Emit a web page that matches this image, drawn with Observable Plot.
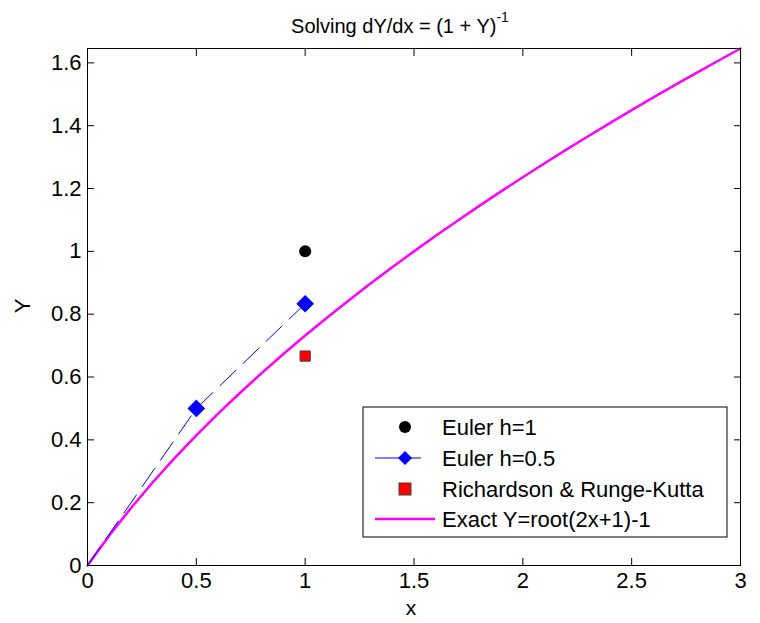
<!DOCTYPE html>
<html><head><meta charset="utf-8">
<script src="https://cdn.jsdelivr.net/npm/d3@7"></script>
<script src="https://cdn.jsdelivr.net/npm/@observablehq/plot@0.6"></script>
<style>body{margin:0;background:#fff}svg{font-family:"Liberation Sans",Arial,sans-serif}</style>
</head><body><div id="chart"></div>
<script>
// Data
const eulerH1X = [1];
const eulerH1Y = [1.0];
const eulerH05X = [0, 0.5, 1];
const eulerH05Y = [0, 0.5, 0.8333];
const richX = [1];
const richY = [0.6667];
const exactX = [0,0.1,0.2,0.3,0.4,0.5,0.6,0.7,0.8,0.9,1.0,1.1,1.2,1.3,1.4,1.5,1.6,1.7,1.8,1.9,2.0,2.1,2.2,2.3,2.4,2.5,2.6,2.7,2.8,2.9,3.0];
const exactY = [0,0.0954,0.1832,0.2649,0.3416,0.4142,0.4832,0.5492,0.6125,0.6733,0.7321,0.7889,0.8439,0.8974,0.9494,1.0,1.0494,1.0976,1.1448,1.1909,1.2361,1.2804,1.3238,1.3664,1.4083,1.4495,1.4900,1.5298,1.5690,1.6077,1.6458];
const xTicks = [0,0.5,1,1.5,2,2.5,3];
const yTicks = [0,0.2,0.4,0.6,0.8,1,1.2,1.4,1.6];
const legendLabels = ["Euler h=1","Euler h=0.5","Richardson & Runge-Kutta","Exact Y=root(2x+1)-1"];

const zip = (xs, ys) => xs.map((x, i) => ({x, y: ys[i]}));
const fmt = d => String(d);

const plot = Plot.plot({
  width: 760, height: 623,
  marginLeft: 87, marginRight: 20, marginTop: 48, marginBottom: 58,
  style: {fontSize: "22px", fontFamily: "Liberation Sans, Arial, sans-serif", color: "black", background: "white"},
  x: {domain: [0, 3], ticks: xTicks},
  y: {domain: [0, 1.6458], ticks: yTicks},
  marks: [
    Plot.axisX({ticks: xTicks, tickFormat: fmt, tickSize: -7, tickPadding: 14, label: null}),
    Plot.axisX({anchor: "top", ticks: xTicks, tickFormat: () => "", tickSize: -7, label: null}),
    Plot.axisY({ticks: yTicks, tickFormat: fmt, tickSize: -7, tickPadding: 13, label: null}),
    Plot.axisY({anchor: "right", ticks: yTicks, tickFormat: () => "", tickSize: -7, label: null}),
    Plot.line(zip(exactX, exactY), {x: "x", y: "y", stroke: "#ff00ff", strokeWidth: 2.5}),
    Plot.line(zip(eulerH05X, eulerH05Y), {x: "x", y: "y", stroke: "#0000ff", strokeWidth: 1, strokeDasharray: "22,10"}),
    Plot.dot(zip(eulerH05X, eulerH05Y).slice(1), {x: "x", y: "y", symbol: "diamond2", r: 7, fill: "#0000ff", stroke: "#0000ff"}),
    Plot.dot(zip(eulerH1X, eulerH1Y), {x: "x", y: "y", r: 6, fill: "black"}),
    Plot.dot(zip(richX, richY), {x: "x", y: "y", symbol: "square2", r: 6.5, fill: "#ff0000", stroke: "#404040", strokeWidth: 1}),
    Plot.frame({stroke: "black"})
  ]
});
document.getElementById("chart").appendChild(plot);

const svg = d3.select(plot);
svg.selectAll("text").style("font-size", "22px").style("font-family", "Liberation Sans, Arial, sans-serif");

// Title
const t = svg.append("text").attr("x", 400).attr("y", 33).attr("text-anchor", "middle")
  .style("font-size", "20px").attr("fill", "black");
t.append("tspan").text("Solving dY/dx = (1 + Y)");
t.append("tspan").attr("dy", -11).style("font-size", "14px").text("-1");
// Axis labels
svg.append("text").attr("x", 411).attr("y", 615).attr("text-anchor", "middle").style("font-size", "21px").attr("fill", "black").text("x");
svg.append("text").attr("transform", "translate(30,306) rotate(-90)").attr("text-anchor", "middle").style("font-size", "22px").attr("fill", "black").text("Y");

// Legend
const lg = svg.append("g").attr("text-anchor", "start");
lg.append("rect").attr("x", 363).attr("y", 407).attr("width", 364).attr("height", 130)
  .attr("fill", "white").attr("stroke", "black").attr("stroke-width", 1);
const rows = [427, 458, 489, 519];
const sx = 405;
lg.append("circle").attr("cx", sx).attr("cy", rows[0]).attr("r", 6).attr("fill", "black");
lg.append("line").attr("x1", 375).attr("x2", 421).attr("y1", rows[1]).attr("y2", rows[1]).attr("stroke", "#0000ff").attr("stroke-width", 1);
lg.append("path").attr("d", `M${sx},${rows[1]-7}L${sx+7},${rows[1]}L${sx},${rows[1]+7}L${sx-7},${rows[1]}Z`).attr("fill", "#0000ff");
lg.append("rect").attr("x", sx-6).attr("y", rows[2]-6).attr("width", 12).attr("height", 12).attr("fill", "#ff0000").attr("stroke", "#404040");
lg.append("line").attr("x1", 375).attr("x2", 435).attr("y1", rows[3]).attr("y2", rows[3]).attr("stroke", "#ff00ff").attr("stroke-width", 2.5);
legendLabels.forEach((s, i) => {
  lg.append("text").attr("x", 442).attr("y", rows[i]).attr("dy", "0.35em").attr("text-anchor", "start").style("font-size", "22px").attr("fill", "black").text(s);
});
</script></body></html>
